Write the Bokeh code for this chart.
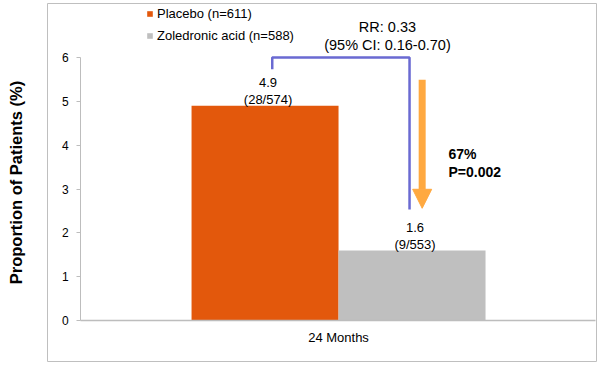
from bokeh.plotting import figure
from bokeh.models import (ColumnDataSource, Range1d, LinearAxis, FixedTicker, Legend, LegendItem,
                          Arrow, NormalHead, Label)
from bokeh.transform import dodge
from bokeh.core.properties import value
from bokeh.embed import file_html
from bokeh.resources import INLINE

# ---- data ----
categories = ["24 Months"]
series_names = ["Placebo (n=611)", "Zoledronic acid (n=588)"]
placebo = [4.9]
zoledronic = [1.6]
placebo_counts = ["(28/574)"]
zoledronic_counts = ["(9/553)"]
y_ticks = [0, 1, 2, 3, 4, 5, 6]
rr_lines = ["RR: 0.33", "(95% CI: 0.16-0.70)"]
reduction_lines = ["67%", "P=0.002"]

# ---- styling ----
ORANGE = "#E3580C"
GRAY = "#BFBFBF"
BLUE = "#6A6AD2"
ARROW = "#FFA940"
AXIS = "#BDBDBD"
FONT = "Liberation Sans"

x_idx = list(range(len(categories)))
src = ColumnDataSource(dict(
    x=x_idx, placebo=placebo, zol=zoledronic,
    placebo_lbl=[f"{v:.1f}" for v in placebo], zol_lbl=[f"{v:.1f}" for v in zoledronic],
    placebo_cnt=placebo_counts, zol_cnt=zoledronic_counts,
))

X_START, X_END = -1.980, 1.755
AXIS_X = -1.755

p = figure(width=600, height=365, output_backend="svg", toolbar_location=None,
           x_range=Range1d(X_START, X_END), y_range=Range1d(-0.935, 7.232),
           x_axis_location=None, min_border_left=47, min_border_right=4,
           min_border_top=3, min_border_bottom=4)
p.xgrid.visible = False
p.ygrid.visible = False
p.outline_line_color = GRAY
p.outline_line_width = 1
p.background_fill_color = "white"
p.border_fill_color = "white"

# label-only left axis
ya = p.yaxis[0]
ya.ticker = FixedTicker(ticks=[])
ya.axis_line_color = None
ya.major_tick_line_color = None
ya.minor_tick_line_color = None
ya.axis_label = "Proportion of Patients (%)"
ya.axis_label_text_font = FONT
ya.axis_label_text_font_style = "bold"
ya.axis_label_text_font_size = "16.5px"
ya.axis_label_text_color = "black"
ya.axis_label_standoff = 23

# real y axis inside the box
yax = LinearAxis(fixed_location=AXIS_X, bounds=(0, 6), ticker=FixedTicker(ticks=y_ticks))
yax.axis_line_color = AXIS
yax.major_tick_line_color = AXIS
yax.major_tick_out = 4
yax.major_tick_in = 0
yax.minor_tick_line_color = None
yax.major_label_standoff = 8
yax.major_label_text_font = FONT
yax.major_label_text_font_size = "12px"
yax.major_label_text_color = "black"
p.add_layout(yax, "left")

# x axis
xax = LinearAxis(fixed_location=0, bounds=(AXIS_X, X_END - 0.007), ticker=FixedTicker(ticks=x_idx),
                 major_label_overrides={i: c for i, c in zip(x_idx, categories)})
xax.axis_line_color = AXIS
xax.axis_line_width = 1.5
xax.major_tick_line_color = None
xax.minor_tick_line_color = None
xax.major_tick_out = 0
xax.major_label_standoff = 9
xax.major_label_text_font = FONT
xax.major_label_text_font_size = "13px"
xax.major_label_text_color = "black"
p.add_layout(xax, "below")

r1 = p.vbar(x=dodge("x", -0.5, range=p.x_range), top="placebo", width=1.0, source=src,
            fill_color=ORANGE, line_color=None)
r2 = p.vbar(x=dodge("x", 0.5, range=p.x_range), top="zol", width=1.0, source=src,
            fill_color=GRAY, line_color=None)

# bar value labels
for off, vcol, ccol in [(-0.5, "placebo", "placebo_lbl"), (0.5, "zol", "zol_lbl")]:
    p.text(x=dodge("x", off, range=p.x_range), y=vcol, text=ccol, source=src,
           text_font=value(FONT), text_font_size="13px", text_color="black",
           text_align="center", text_baseline="middle", x_offset=3, y_offset=-23)
for off, vcol, ccol in [(-0.5, "placebo", "placebo_cnt"), (0.5, "zol", "zol_cnt")]:
    p.text(x=dodge("x", off, range=p.x_range), y=vcol, text=ccol, source=src,
           text_font=value(FONT), text_font_size="13px", text_color="black",
           text_align="center", text_baseline="middle", x_offset=3, y_offset=-6)

# RR bracket
left_x = x_idx[0] - 0.5 + 0.049
right_x = x_idx[0] + 0.5 - 0.017
top_y = max(placebo[0], zoledronic[0]) + 1.1
p.line(x=[left_x, left_x, right_x, right_x],
       y=[placebo[0] + 0.83, top_y, top_y, zoledronic[0] + 0.93],
       line_color=BLUE, line_width=2.5)

# RR text
rr_x = x_idx[0] + 0.333
for txt, yy in zip(rr_lines, [6.685, 6.274]):
    p.add_layout(Label(x=rr_x, y=yy, text=txt, text_font=FONT, text_font_size="14.5px",
                       text_align="center", text_baseline="middle", text_color="black"))

# reduction arrow
arr_x = x_idx[0] + 0.569
p.add_layout(Arrow(x_start=arr_x, y_start=placebo[0] + 0.59, x_end=arr_x, y_end=zoledronic[0] + 0.96,
                   line_color=ARROW, line_width=7,
                   end=NormalHead(size=19, fill_color=ARROW, line_color=ARROW, line_width=1)))

for txt, yy in zip(reduction_lines, [3.81, 3.388]):
    p.add_layout(Label(x=x_idx[0] + 0.748, y=yy, text=txt, text_font=FONT, text_font_size="14px",
                       text_font_style="bold", text_align="left", text_baseline="middle",
                       text_color="black"))

legend = Legend(items=[LegendItem(label=series_names[0], renderers=[r1]),
                       LegendItem(label=series_names[1], renderers=[r2])],
                location=(99, 318), orientation="vertical",
                glyph_width=7, glyph_height=7, label_height=13, label_standoff=4,
                spacing=7, padding=0, margin=0,
                label_text_font=FONT, label_text_font_size="13px", label_text_color="black",
                border_line_color=None, background_fill_alpha=0)
p.add_layout(legend)

open("out.html", "w").write(file_html(p, INLINE))
